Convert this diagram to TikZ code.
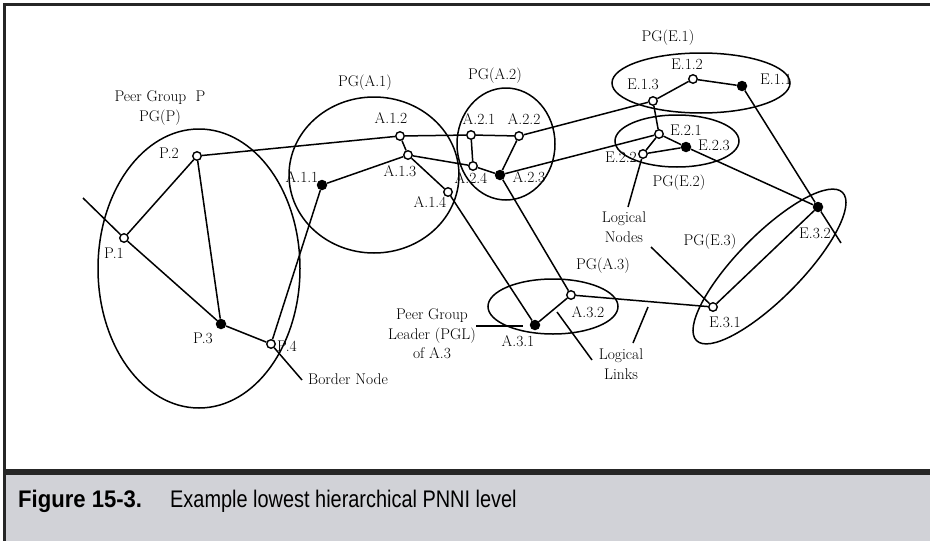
\documentclass[tikz,border=0pt]{standalone}
\usepackage{fontspec}
\newfontfamily\capfont{Liberation Sans}
\definecolor{capgray}{RGB}{209,210,215}
\definecolor{rule}{RGB}{38,38,38}
\begin{document}
\begin{tikzpicture}[x=1pt,y=-1pt,
  link/.style={line width=1.5pt, black},
  group/.style={line width=1.5pt, black},
  opennode/.style={circle, draw, line width=1.4pt, fill=white, minimum size=8.5pt, inner sep=0pt},
  leadnode/.style={circle, fill=black, minimum size=10.5pt, inner sep=0pt},
  lbl/.style={font=\fontsize{15.5}{19.5}\selectfont, inner sep=0pt, align=center},
  capbold/.style={font=\capfont\bfseries\fontsize{24}{28}\selectfont, inner sep=0pt, anchor=base west},
  capplain/.style={font=\capfont\fontsize{24}{28}\selectfont, inner sep=0pt, anchor=base west},
]
\useasboundingbox (0,0) rectangle (930,541);

% frame and caption band
\fill[capgray] (6,475) rectangle (930,541);
\fill[rule] (3,469) rectangle (930,475);
\fill[rule] (3,3) rectangle (930,6);
\fill[rule] (3,3) rectangle (6,541);
\node[capbold] (figno) at (18,507) {\scalebox{0.92}[1]{Figure 15-3.}};
\node[capplain] (figtitle) at (170,507) {\scalebox{0.83}[1]{Example lowest hierarchical PNNI level}};

% peer group boundaries
\draw[group] (199,268.5) ellipse [x radius=101pt, y radius=139.5pt];
\draw[group] (374,175) ellipse [x radius=85pt, y radius=78pt];
\draw[group] (506,144) ellipse [x radius=49pt, y radius=56pt];
\draw[group] (701,83) ellipse [x radius=89pt, y radius=30pt];
\draw[group] (677,141) ellipse [x radius=62pt, y radius=26pt];
\draw[group] (553,306.5) ellipse [x radius=65pt, y radius=27.5pt];
\draw[group, rotate around={45.4:(769.5,266.5)}] (769.5,266.5) ellipse [x radius=104pt, y radius=32pt];

% logical nodes
\node[opennode] (P1) at (124,238) {};
\node[opennode] (P2) at (197,156) {};
\node[leadnode] (P3) at (221,324) {};
\node[opennode] (P4) at (271,344) {};
\node[leadnode] (A11) at (322,185) {};
\node[opennode] (A12) at (400,136) {};
\node[opennode] (A13) at (408,155) {};
\node[opennode] (A14) at (448,192) {};
\node[opennode] (A21) at (471,135) {};
\node[opennode] (A22) at (519,136) {};
\node[opennode] (A24) at (473,166) {};
\node[leadnode] (A23) at (500,175) {};
\node[leadnode] (A31) at (535,325) {};
\node[opennode] (A32) at (571,295) {};
\node[leadnode] (E11) at (742,86) {};
\node[opennode] (E12) at (693,79) {};
\node[opennode] (E13) at (653,101) {};
\node[opennode] (E21) at (659,134) {};
\node[opennode] (E22) at (643,154) {};
\node[leadnode] (E23) at (686,147) {};
\node[opennode] (E31) at (713,307) {};
\node[leadnode] (E32) at (818,207) {};

% free ends of outside links and pointers
\coordinate (extP) at (83,198);
\coordinate (extB) at (302,380);
\coordinate (extE) at (841,243);
\coordinate (lnA) at (628,207);
\coordinate (lnB) at (651,247);
\coordinate (pglA) at (476,326);
\coordinate (pglB) at (523,326);
\coordinate (llA) at (557,312);
\coordinate (llB) at (592,360);
\coordinate (llC) at (648,307);
\coordinate (llD) at (633,343);

% logical links
\draw[link] (extP) -- (P1);
\draw[link] (P1) -- (P3);
\draw[link] (P1) -- (P2);
\draw[link] (P2) -- (P3);
\draw[link] (P3) -- (P4);
\draw[link] (P4) -- (extB);
\draw[link] (P4) -- (A11);
\draw[link] (P2) -- (A12);
\draw[link] (A12) -- (A21);
\draw[link] (A12) -- (A13);
\draw[link] (A11) -- (A13);
\draw[link] (A13) -- (A24);
\draw[link] (A13) -- (A14);
\draw[link] (A14) -- (A31);
\draw[link] (A21) -- (A22);
\draw[link] (A21) -- (A24);
\draw[link] (A24) -- (A23);
\draw[link] (A22) -- (A23);
\draw[link] (A23) -- (A32);
\draw[link] (A22) -- (E13);
\draw[link] (A23) -- (E21);
\draw[link] (A31) -- (A32);
\draw[link] (A32) -- (E31);
\draw[link] (E13) -- (E12);
\draw[link] (E12) -- (E11);
\draw[link] (E13) -- (E21);
\draw[link] (E21) -- (E22);
\draw[link] (E22) -- (E23);
\draw[link] (E21) -- (E23);
\draw[link] (E23) -- (E32);
\draw[link] (E11) -- (E32);
\draw[link] (E32) -- (extE);
\draw[link] (E31) -- (E32);

% annotation pointers
\draw[link] (E22) -- (lnA);
\draw[link] (lnB) -- (E31);
\draw[link] (pglA) -- (pglB);
\draw[link] (llA) -- (llB);
\draw[link] (llC) -- (llD);

% labels
\node[lbl] (tP) at (160,108) {Peer Group\ \ P\\PG(P)};
\node[lbl] (tP2) at (169,153) {P.2};
\node[lbl] (tP1) at (114,253) {P.1};
\node[lbl] (tP3) at (203,338) {P.3};
\node[lbl] (tP4) at (287,346) {P.4};
\node[lbl, anchor=west] (tBorder) at (308,379) {Border Node};

\node[lbl] (tA1) at (365,83) {PG(A.1)};
\node[lbl] (tA12) at (391,118) {A.1.2};
\node[lbl] (tA13) at (400,171) {A.1.3};
\node[lbl] (tA11) at (302,177) {A.1.1};
\node[lbl] (tA14) at (430,202) {A.1.4};

\node[lbl] (tA2) at (495,76) {PG(A.2)};
\node[lbl] (tA21) at (479,119) {A.2.1};
\node[lbl] (tA22) at (524,119) {A.2.2};
\node[lbl] (tA24) at (471,178) {A.2.4};
\node[lbl] (tA23) at (529,177) {A.2.3};

\node[lbl] (tE1) at (668,38) {PG(E.1)};
\node[lbl] (tE12) at (687,64) {E.1.2};
\node[lbl] (tE13) at (643,84) {E.1.3};
\node[lbl] (tE11) at (776,79) {E.1.1};
\node[lbl] (tE21) at (686,130) {E.2.1};
\node[lbl] (tE23) at (714,145) {E.2.3};
\node[lbl] (tE22) at (621,157) {E.2.2};
\node[lbl] (tE2) at (679,183) {PG(E.2)};

\node[lbl] (tLN) at (624,227) {Logical\\Nodes};
\node[lbl] (tE3) at (710,242) {PG(E.3)};
\node[lbl] (tE31) at (725,322) {E.3.1};
\node[lbl] (tE32) at (815,233) {E.3.2};

\node[lbl] (tA3) at (603,266) {PG(A.3)};
\node[lbl] (tA32) at (588,312) {A.3.2};
\node[lbl] (tA31) at (518,341) {A.3.1};
\node[lbl] (tPGL) at (432,334) {Peer Group\\Leader (PGL)\\of A.3};
\node[lbl] (tLL) at (621,364) {Logical\\Links};
\end{tikzpicture}
\end{document}
